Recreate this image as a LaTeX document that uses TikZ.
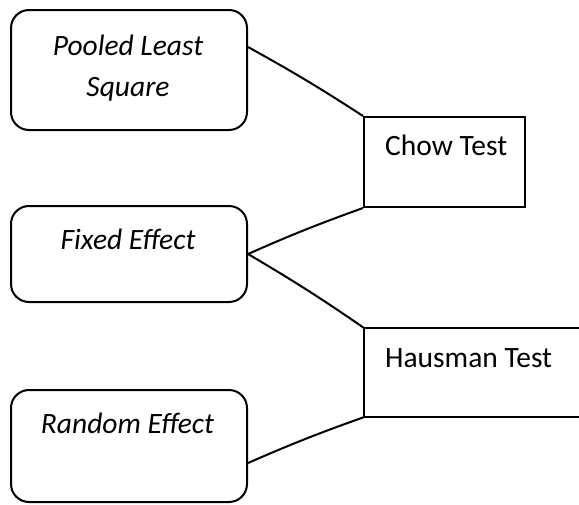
\documentclass[tikz,border=0pt]{standalone}
\usepackage{fontspec}
\setmainfont{Carlito}
\begin{document}
\begin{tikzpicture}[x=1pt,y=-1pt,
  rbox/.style={draw, line width=2pt, rounded corners=18pt,
    minimum width=236pt, inner sep=0pt},
  sbox/.style={inner sep=0pt},
  lbl/.style={font=\fontsize{29.5}{41}\selectfont, inner sep=0pt, anchor=base},
  tlbl/.style={lbl, anchor=base west},
  link/.style={line width=2pt, line join=round}]
\useasboundingbox (0,0) rectangle (579,504);

% model boxes on the left
\node[rbox, minimum height=120pt] (pls) at (129,70) {};
\node[rbox, minimum height=96pt]  (fe)  at (129,254) {};
\node[rbox, minimum height=112pt] (re)  at (129,446) {};

% the base anchor of a two-line label sits on its last line
\node[lbl, align=center] (plsT) at (128,96) {\itshape Pooled Least\\\itshape Square};
\node[lbl] (feT) at (128,249) {\itshape Fixed Effect};
\node[lbl] (reT) at (127.5,433) {\itshape Random Effect};

% test boxes on the right
\node[sbox, draw, line width=2pt, minimum width=161pt, minimum height=90pt] (chow) at (444.5,162) {};
\node[sbox, minimum width=220pt, minimum height=89pt] (haus) at (474,372.5) {};
\draw[line width=2pt] (haus.north east) -- (haus.north west) -- (haus.south west) -- (haus.south east);

\node[tlbl] (chowT) at (385,155) {Chow Test};
\node[tlbl] (hausT) at (385,367) {Hausman Test};

% connectors
\coordinate (plsOut) at ([yshift=23pt]pls.east);
\coordinate (reOut)  at ([yshift=-17pt]re.east);
\draw[link] (plsOut) to[bend left=2] (chow.north west);
\draw[link] (fe.east) to[bend left=2] (chow.south west);
\draw[link] (fe.east) to[bend left=2] (haus.north west);
\draw[link] (reOut) to[bend left=2] (haus.south west);
\end{tikzpicture}
\end{document}
